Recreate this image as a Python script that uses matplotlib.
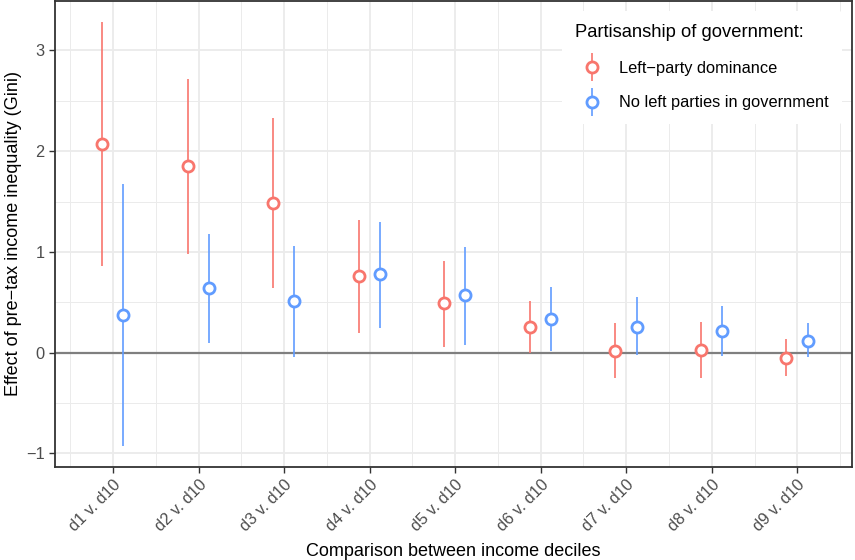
import matplotlib
matplotlib.use("Agg")
import matplotlib.pyplot as plt
from matplotlib.lines import Line2D
import numpy as np

plt.rcParams["font.family"] = ["Liberation Sans", "DejaVu Sans"]

comparisons = ["d1 v. d10", "d2 v. d10", "d3 v. d10", "d4 v. d10", "d5 v. d10",
               "d6 v. d10", "d7 v. d10", "d8 v. d10", "d9 v. d10"]

left_est = [2.07, 1.85, 1.49, 0.76, 0.49, 0.26, 0.02, 0.025, -0.05]
left_lo = [0.86, 0.975, 0.64, 0.20, 0.06, 0.0, -0.25, -0.25, -0.23]
left_hi = [3.28, 2.72, 2.33, 1.32, 0.91, 0.51, 0.29, 0.30, 0.14]

noleft_est = [0.37, 0.64, 0.51, 0.78, 0.57, 0.33, 0.26, 0.22, 0.12]
noleft_lo = [-0.93, 0.10, -0.04, 0.25, 0.08, 0.015, -0.02, -0.035, -0.04]
noleft_hi = [1.67, 1.18, 1.06, 1.30, 1.05, 0.655, 0.55, 0.46, 0.29]

series = [
    ("Left\u2212party dominance", left_est, left_lo, left_hi, "#F8766D", -0.13),
    ("No left parties in government", noleft_est, noleft_lo, noleft_hi, "#619CFF", 0.12),
]

fig = plt.figure(figsize=(8.55, 5.6), dpi=100)
ax = fig.add_axes([55 / 855, 1 - 467 / 560, 797 / 855, 466 / 560])

x = np.arange(1, len(comparisons) + 1)
handles, labels = [], []
for label, est, lo, hi, col, off in series:
    est = np.array(est)
    yerr = [est - np.array(lo), np.array(hi) - est]
    ax.errorbar(x + off, est, yerr=yerr, fmt="o", color=col, mfc="white", mec=col,
                mew=2.0, ms=8, elinewidth=1.2, capsize=0, zorder=3)
    bar = Line2D([], [], marker="|", ms=20, mew=1.2, color=col, ls="none")
    dot = Line2D([], [], marker="o", ms=8, mew=2.0, mfc="white", mec=col, ls="none")
    handles.append((bar, dot))
    labels.append(label)

ax.axhline(0, color="#7F7F7F", lw=1.6, zorder=2)

ax.set_xlim(0.32, 9.64)
ax.set_ylim(-1.134, 3.49)
ax.set_xticks(x)
ax.set_xticklabels(comparisons, rotation=45, ha="right", rotation_mode="anchor")
ax.set_xticks(np.arange(0.5, 10, 1), minor=True)
ax.set_yticks([-1, 0, 1, 2, 3])
ax.set_yticklabels(["\u22121", "0", "1", "2", "3"])
ax.set_yticks(np.arange(-0.5, 3.5, 1), minor=True)

ax.grid(True, which="major", color="#EBEBEB", lw=1.3, zorder=0)
ax.grid(True, which="minor", color="#EBEBEB", lw=0.7, zorder=0)
ax.set_axisbelow(True)
ax.tick_params(which="major", colors="#333333", labelcolor="#4D4D4D", labelsize=11.8,
               length=4, width=1.0)
ax.tick_params(which="minor", length=0)
for s in ax.spines.values():
    s.set_color("#333333")
    s.set_linewidth(1.3)

ax.set_xlabel("Comparison between income deciles", fontsize=13, labelpad=6)
ax.set_ylabel("Effect of pre\u2212tax income inequality (Gini)", fontsize=13, labelpad=3)

leg = ax.legend(handles, labels, loc="upper right", title="Partisanship of government:",
                fontsize=11.8, title_fontsize=13.2, frameon=True, facecolor="white",
                edgecolor="none", framealpha=1, borderpad=0.8, labelspacing=1.2,
                handletextpad=0.6, handlelength=2.1,
                bbox_to_anchor=(842 / 855, 1 - 11 / 560), bbox_transform=fig.transFigure,
                borderaxespad=0)
leg._legend_box.align = "left"
leg.set_zorder(5)

fig.savefig("out.png", dpi=100)
